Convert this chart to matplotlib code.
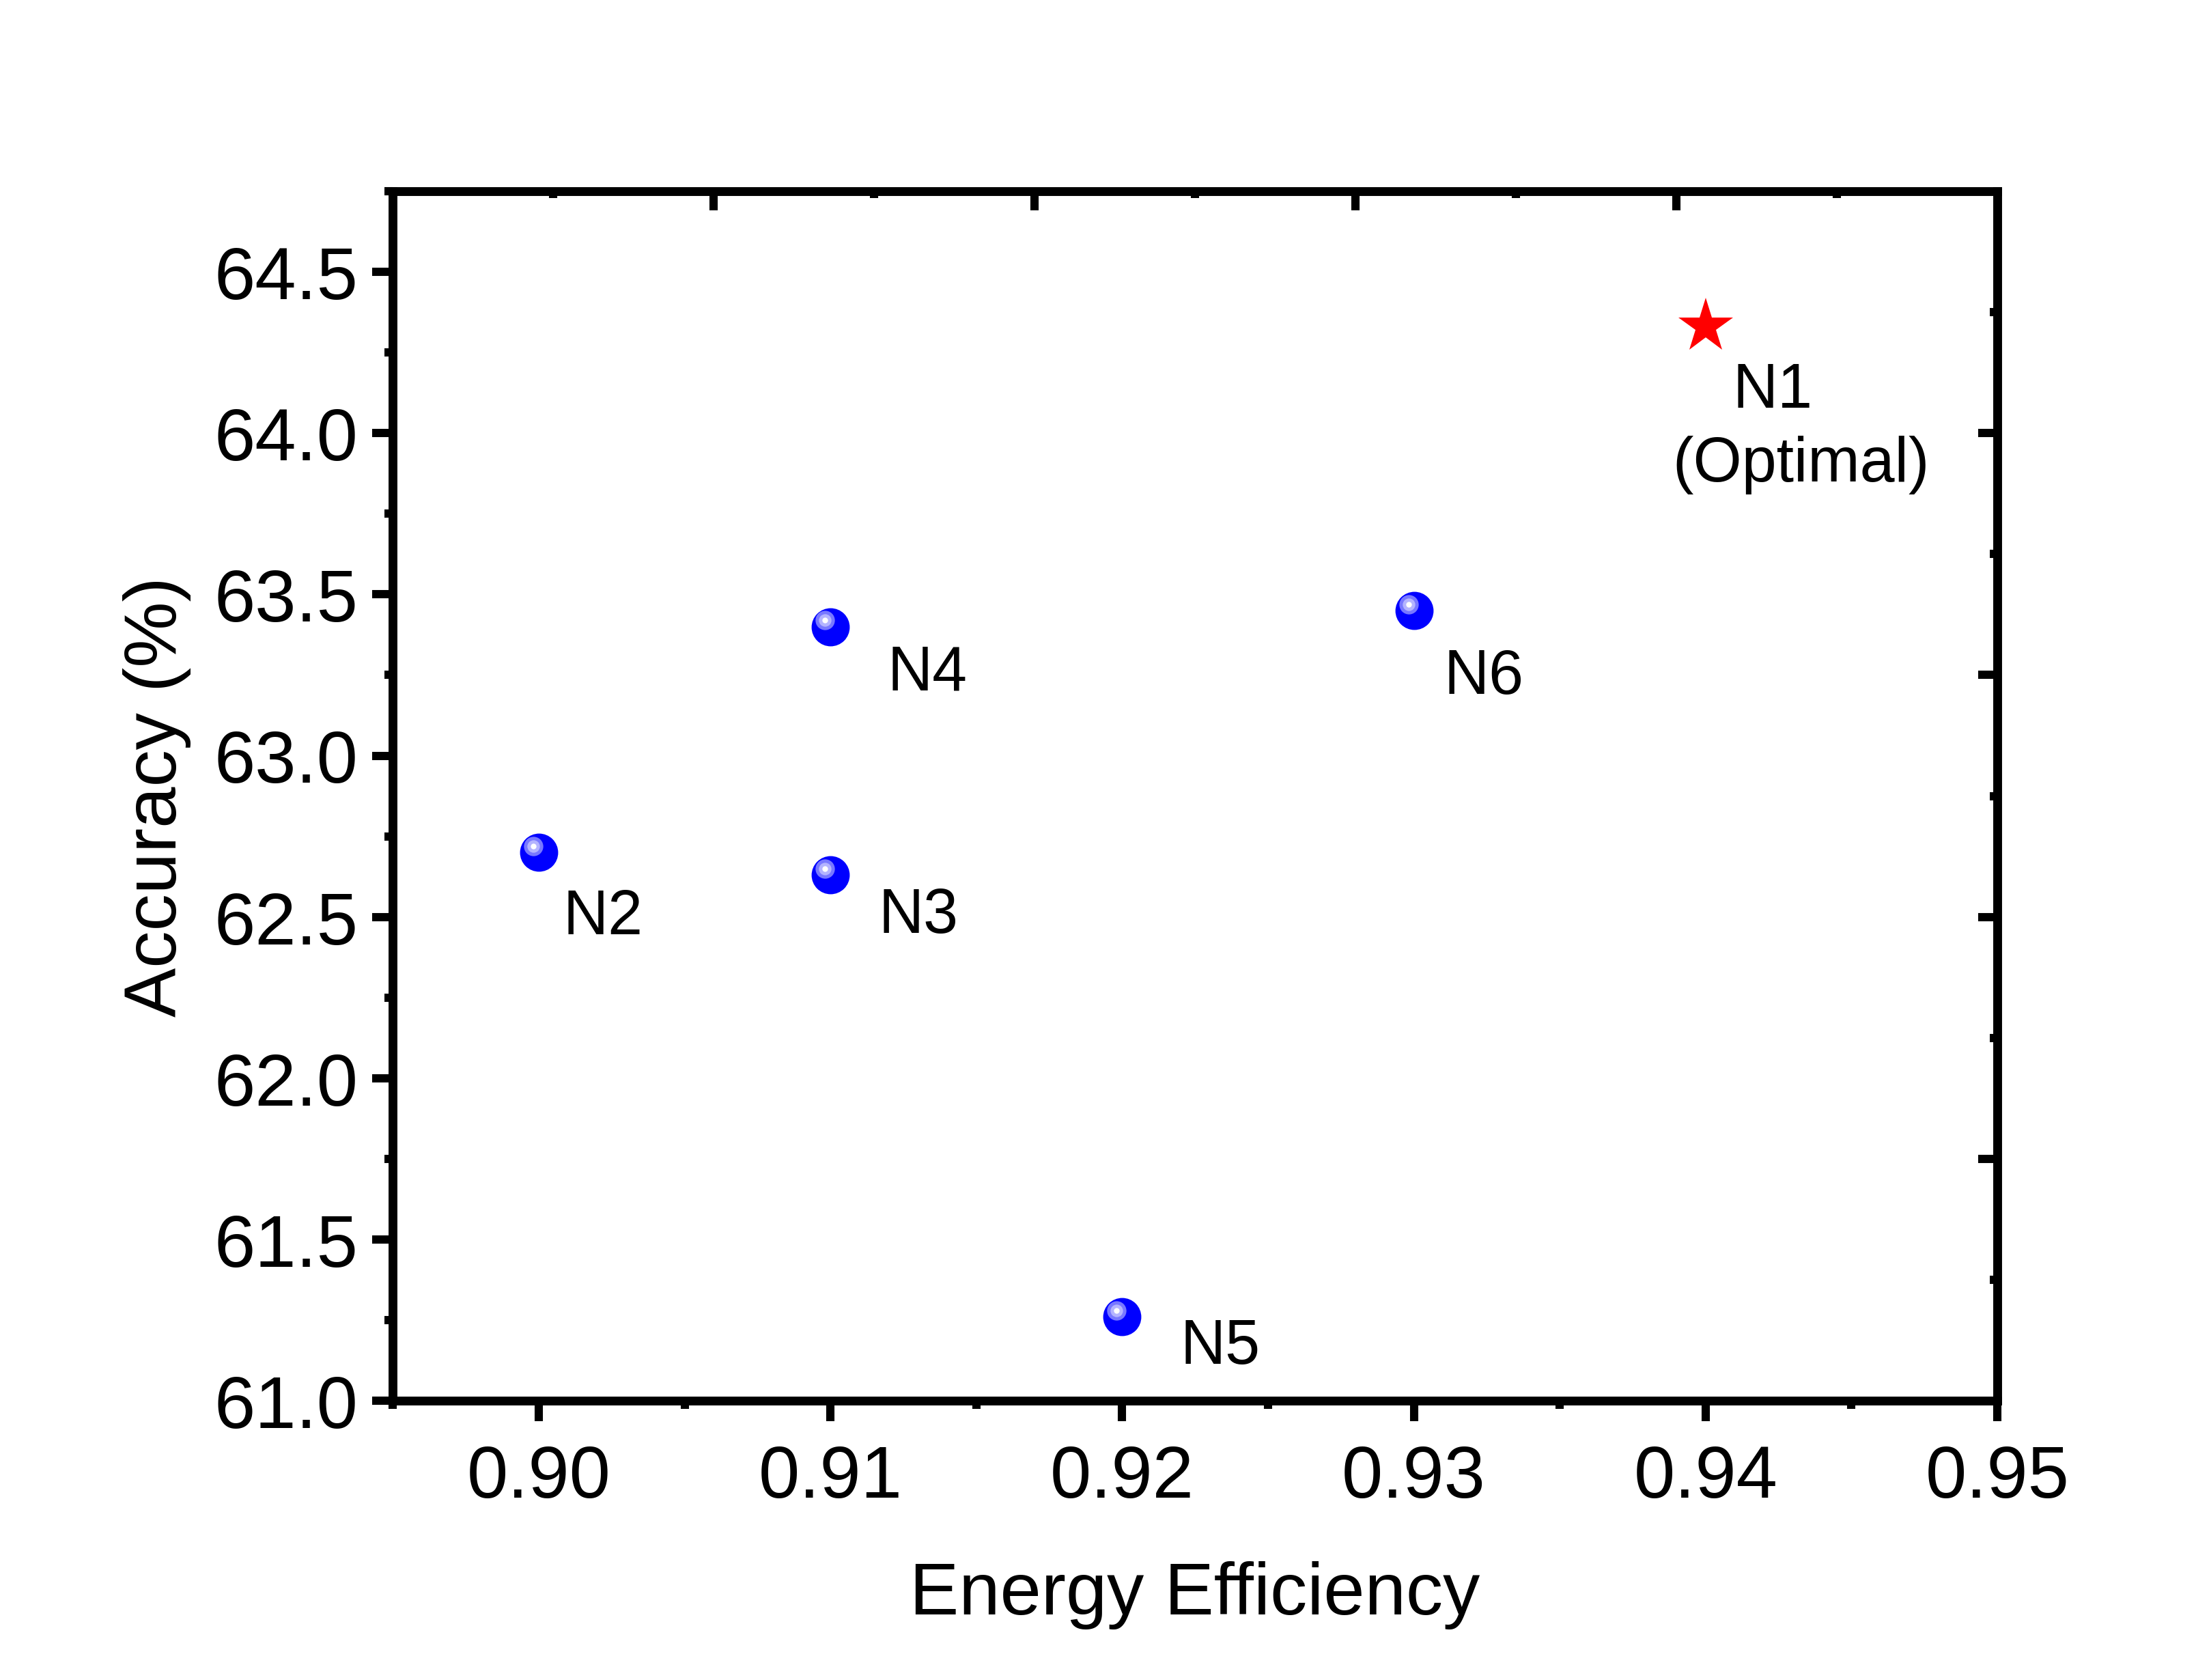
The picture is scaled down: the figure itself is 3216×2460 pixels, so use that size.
import matplotlib
matplotlib.use("Agg")
import matplotlib.pyplot as plt
import matplotlib.transforms as mtransforms
from matplotlib.ticker import MultipleLocator, FixedLocator
import numpy as np

plt.rcParams['font.family'] = ['Liberation Sans', 'DejaVu Sans']

# values
names = ["N2", "N3", "N4", "N5", "N6"]
efficiency = [0.90, 0.91, 0.91, 0.92, 0.93]
accuracy = [62.70, 62.63, 63.40, 61.26, 63.45]
# where each label sits relative to its point (points)
label_offsets = [(8.5, -28.6), (17, -20.2), (20, -22), (20.5, -16.2), (10.5, -29)]

best_name = "N1"
best_note = "(Optimal)"
best_efficiency = [0.94]
best_accuracy = [64.33]

fig = plt.figure(figsize=(10.72, 8.203), dpi=300)
ax = fig.add_axes([0.1789, 0.1662, 0.7306, 0.7196])

# blue "ball" markers: base circle plus a highlight shifted up-left
ax.plot(efficiency, accuracy, 'o', ms=13.4, color='#0000ff', mec='none', zorder=3)
shift = mtransforms.offset_copy(ax.transData, fig=fig, x=-1.9, y=2.2, units='points')
for ms, c in [(6.8, '#7878ff'), (4.4, '#b4b4ff'), (2.0, 'white')]:
    ax.plot(efficiency, accuracy, 'o', ms=ms, color=c, mec='none',
            transform=shift, zorder=4)

ax.plot(best_efficiency, best_accuracy, '*', ms=20, color='red', mec='none', zorder=3)

for name, x, y, off in zip(names, efficiency, accuracy, label_offsets):
    ax.annotate(name, (x, y), xytext=off, textcoords='offset points',
                fontsize=22, ha='left', va='baseline')

ax.annotate(best_name, (best_efficiency[0], best_accuracy[0]), xytext=(9.5, -28.3),
            textcoords='offset points', fontsize=22, ha='left', va='baseline')
ax.annotate(best_note, (best_efficiency[0], best_accuracy[0]), xytext=(-11.5, -54.2),
            textcoords='offset points', fontsize=22, ha='left', va='baseline')

ax.set_xlim(0.895, 0.95)
ax.set_ylim(61.0, 64.75)
ax.xaxis.set_major_locator(MultipleLocator(0.01))
ax.xaxis.set_minor_locator(MultipleLocator(0.005))
ax.yaxis.set_major_locator(MultipleLocator(0.5))
ax.yaxis.set_minor_locator(MultipleLocator(0.25))

ax.tick_params(which='both', direction='out', width=2.9)
ax.tick_params(which='major', length=7.2, labelsize=26)
ax.tick_params(axis='x', which='major', pad=8)
ax.tick_params(axis='y', which='major', pad=5)
ax.tick_params(which='minor', length=2.8)
for s in ax.spines.values():
    s.set_linewidth(3.1)

# top and right axes carry their own inward ticks
top = ax.secondary_xaxis('top')
top.xaxis.set_major_locator(FixedLocator(np.arange(0.906, 0.95, 0.011)))
top.xaxis.set_minor_locator(FixedLocator(np.arange(0.9005, 0.95, 0.011)))
top.tick_params(which='both', direction='in', labeltop=False, width=2.9)
top.tick_params(which='major', length=6.7)
top.tick_params(which='minor', length=2.4)

right = ax.secondary_yaxis('right')
right.yaxis.set_major_locator(FixedLocator(np.arange(61.75, 64.75, 0.75)))
right.yaxis.set_minor_locator(FixedLocator(np.arange(61.375, 64.75, 0.75)))
right.tick_params(which='both', direction='in', labelright=False, width=2.9)
right.tick_params(which='major', length=6.8)
right.tick_params(which='minor', length=2.6)
for sec in (top, right):
    for s in sec.spines.values():
        s.set_visible(False)

ax.set_xlabel("Energy Efficiency", fontsize=26, labelpad=17)
ax.set_ylabel("Accuracy (%)", fontsize=26, labelpad=8)

fig.savefig("out.png", dpi=300)
